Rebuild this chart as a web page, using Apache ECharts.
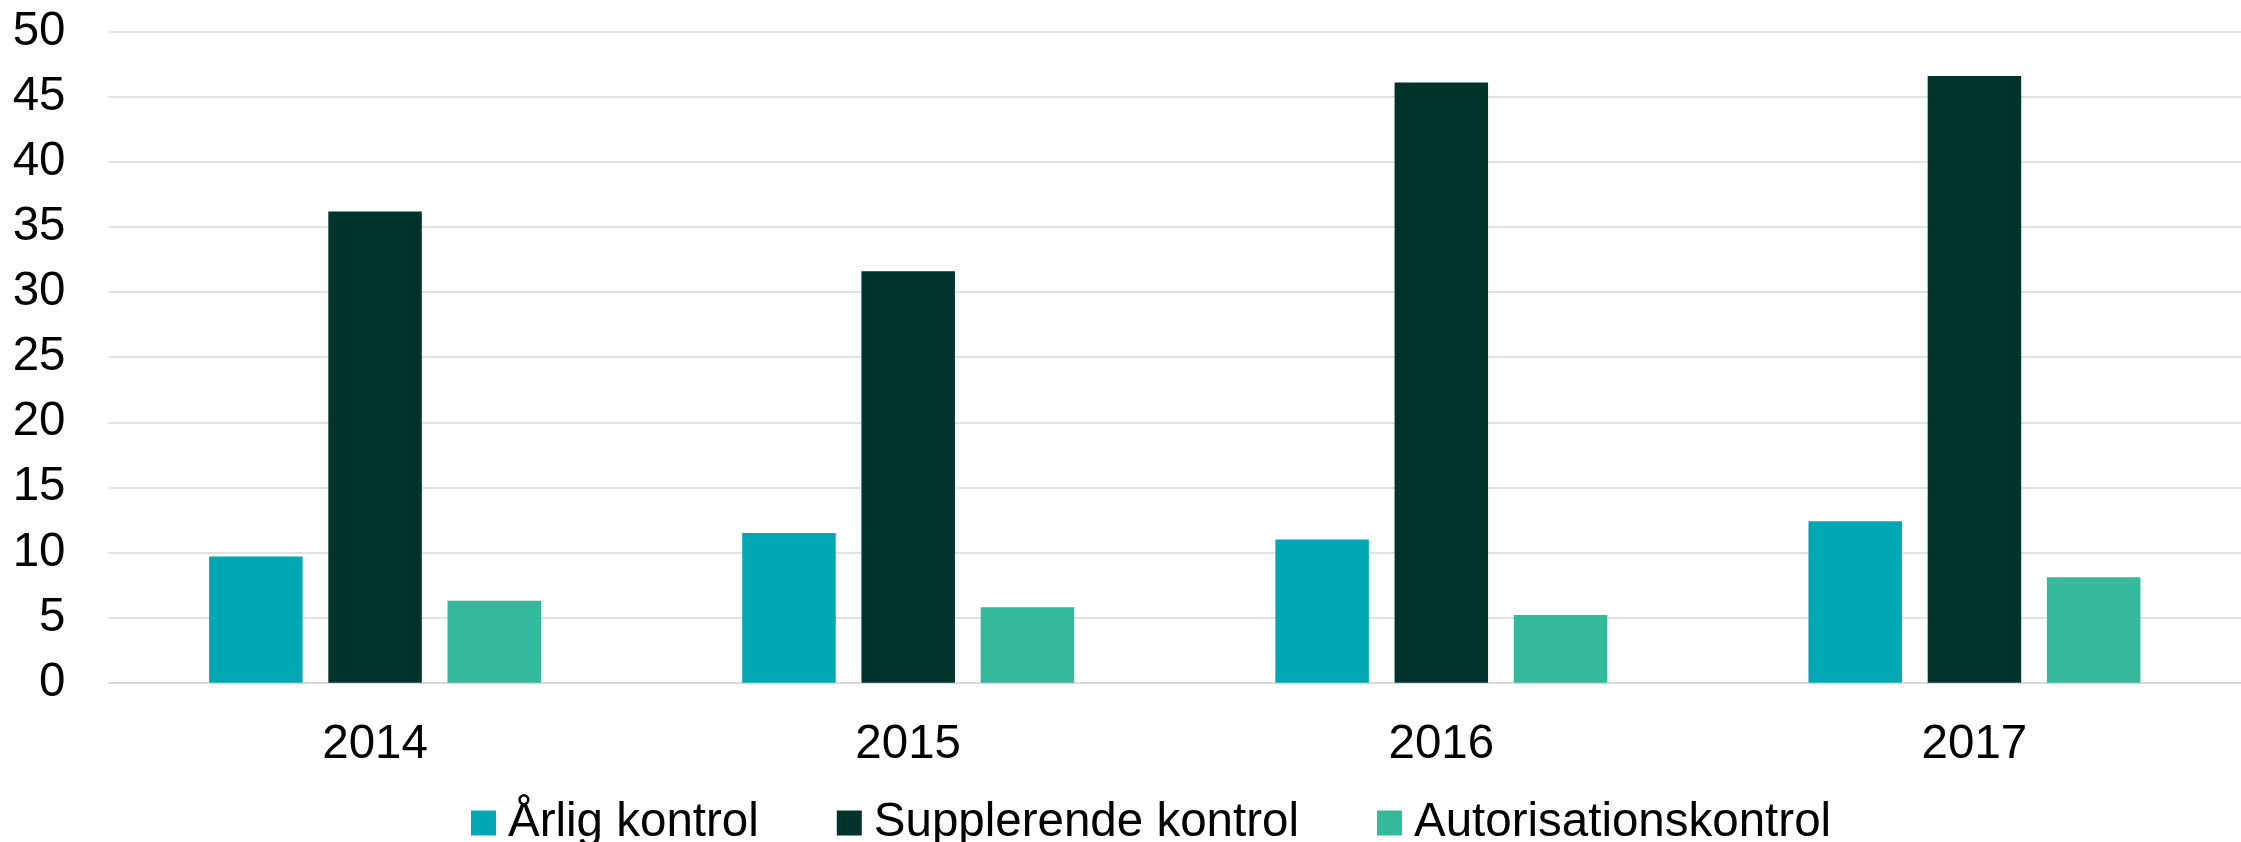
<!DOCTYPE html>
<html>
<head>
<meta charset="utf-8">
<script src="https://cdn.jsdelivr.net/npm/echarts@6/dist/echarts.min.js"></script>
<style>
html,body{margin:0;padding:0;background:#fff;}
#chart{width:2241px;height:842px;}
</style>
</head>
<body>
<div id="chart"></div>
<script>
// data
var years = ['2014', '2015', '2016', '2017'];
var aarlig = [9.7, 11.5, 11.0, 12.4];
var supplerende = [36.2, 31.6, 46.1, 46.6];
var autorisation = [6.3, 5.8, 5.2, 8.1];
var seriesNames = ['Årlig kontrol', 'Supplerende kontrol', 'Autorisationskontrol'];
var yTicks = [0, 50, 5]; // min, max, interval

var font = '"Liberation Sans", Arial, sans-serif';
var chart = echarts.init(document.getElementById('chart'));

function bar(name, data, color) {
  return {
    name: name,
    type: 'bar',
    data: data,
    barWidth: 93.5,
    barGap: '27.5%',
    itemStyle: { color: color }
  };
}

var options = {
  animation: false,
  textStyle: { fontFamily: font },
  grid: {
    left: 108.5,
    right: -13,
    top: 31.7,
    bottom: 159.3,
    containLabel: false
  },
  legend: {
    data: seriesNames,
    left: 466,
    top: 794,
    itemWidth: 25,
    itemHeight: 25,
    itemGap: 78,
    icon: 'rect',
    textStyle: {
      fontFamily: font,
      fontSize: 47.5,
      color: '#000',
      padding: [0, 0, 0, 7]
    }
  },
  xAxis: {
    type: 'category',
    data: years,
    axisLine: { lineStyle: { color: '#d9d9d9', width: 1.5 } },
    axisTick: { show: false },
    axisLabel: {
      fontFamily: font,
      fontSize: 47.5,
      color: '#000',
      margin: 38
    }
  },
  yAxis: {
    type: 'value',
    min: yTicks[0],
    max: yTicks[1],
    interval: yTicks[2],
    axisLine: { show: false },
    axisTick: { show: false },
    splitLine: { lineStyle: { color: '#d9d9d9', width: 1.5 } },
    axisLabel: {
      fontFamily: font,
      fontSize: 47.5,
      color: '#000',
      margin: 43
    }
  },
  series: [
    bar(seriesNames[0], aarlig, '#00a8b4'),
    bar(seriesNames[1], supplerende, '#003329'),
    bar(seriesNames[2], autorisation, '#34ba9b')
  ]
};

chart.setOption(options, true);
</script>
</body>
</html>
